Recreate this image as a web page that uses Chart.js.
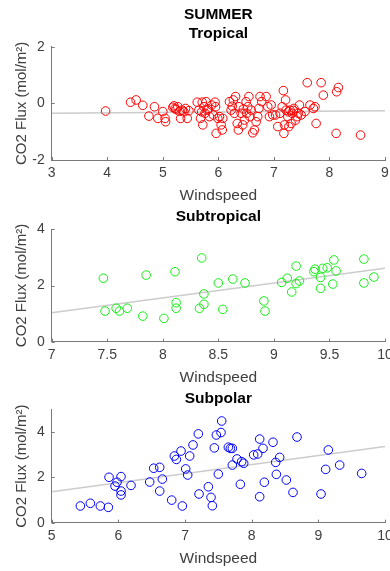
<!DOCTYPE html>
<html><head><meta charset="utf-8">
<script src="https://cdn.jsdelivr.net/npm/chart.js@4"></script>
<style>
html,body{margin:0;padding:0;background:#fff;width:390px;height:571px;overflow:hidden;position:relative;}
.p{position:absolute;left:0;width:400px;}
</style></head><body>
<div class="p" id="w1" style="top:0;height:206px"><canvas id="c1"></canvas></div>
<div class="p" id="w2" style="top:190px;height:197px"><canvas id="c2"></canvas></div>
<div class="p" id="w3" style="top:371px;height:200px"><canvas id="c3"></canvas></div>
<script>
// ---- Tropical (red) ----
const tropX = [3.97,4.42,4.52,4.64,4.75,4.85,4.91,5.00,5.04,5.05,5.18,5.20,5.22,5.27,5.32,5.35,5.41,5.44,5.47,5.62,5.65,5.68,5.71,5.72,5.74,5.76,5.78,5.80,5.84,5.88,5.91,5.94,5.95,5.96,5.99,6.02,6.05,6.07,6.08,6.20,6.23,6.27,6.29,6.31,6.34,6.36,6.37,6.41,6.44,6.47,6.50,6.51,6.53,6.55,6.57,6.59,6.62,6.65,6.68,6.71,6.73,6.75,6.78,6.86,6.89,6.92,6.95,6.98,7.03,7.07,7.11,7.15,7.17,7.18,7.19,7.21,7.22,7.25,7.27,7.29,7.31,7.33,7.36,7.39,7.42,7.44,7.46,7.49,7.56,7.60,7.65,7.71,7.74,7.76,7.85,7.89,8.12,8.13,8.16,8.56,5.24,5.30,5.38,5.70,5.82,6.25,6.45,7.26,7.35];
const tropY = [-0.27,0.04,0.12,-0.07,-0.45,-0.12,-0.53,-0.29,-0.53,-0.65,-0.14,-0.09,-0.18,-0.12,-0.53,-0.24,-0.18,-0.53,-0.26,0.04,-0.24,-0.53,0.04,-0.76,-0.12,-0.35,0.06,-0.24,-0.47,-0.06,-0.41,0.04,-0.12,-1.06,-0.53,-0.47,-0.76,-0.94,-0.53,0.06,-0.24,0.12,-0.35,0.24,-0.71,-0.94,-0.12,-0.35,-0.76,-0.59,0.06,-0.35,-0.12,0.24,-0.47,-0.24,-1.04,-0.94,-0.65,-0.47,-0.18,0.24,0.06,0.24,-0.12,-0.47,-0.06,-0.41,-0.41,-0.82,-0.35,-0.12,0.45,-1.06,-0.76,0.12,-0.24,-0.47,-0.82,-0.24,-0.71,-0.35,-0.18,-0.59,-0.47,-0.35,-0.06,-0.41,-0.29,0.73,-0.06,-0.18,-0.12,-0.71,0.73,0.29,-1.06,0.41,0.56,-1.12,-0.22,-0.28,-0.30,-0.30,-0.20,-0.10,-0.20,-0.30,-0.25];
const tropFitX = [3, 9];
const tropFitY = [-0.35, -0.26];
const tropXTicks = [3,4,5,6,7,8,9];
const tropYTicks = [-2,0,2];

// ---- Subtropical (green) ----
const subtX = [7.465,7.48,7.58,7.61,7.68,7.82,7.85,8.01,8.11,8.12,8.12,8.33,8.35,8.37,8.37,8.50,8.54,8.63,8.74,8.91,8.92,9.07,9.12,9.16,9.20,9.20,9.23,9.36,9.37,9.42,9.42,9.44,9.48,9.54,9.53,9.56,9.81,9.81,9.90];
const subtY = [2.26,1.09,1.19,1.09,1.19,0.91,2.37,0.83,2.49,1.39,1.19,1.19,2.98,1.33,1.70,2.09,1.15,2.23,2.09,1.45,1.09,2.11,2.26,1.77,2.69,2.07,2.16,2.49,2.58,2.29,1.90,2.61,2.63,2.91,2.05,2.52,2.94,2.09,2.30];
const subtFitX = [7, 10];
const subtFitY = [1.03, 2.61];
const subtXTicks = [7,7.5,8,8.5,9,9.5,10];
const subtYTicks = [0,2,4];

// ---- Subpolar (blue) ----
const subpX = [5.43,5.58,5.73,5.85,5.86,5.95,5.98,6.04,6.04,6.04,6.19,6.47,6.53,6.62,6.62,6.66,6.80,6.84,6.87,6.94,6.96,7.01,7.04,7.07,7.12,7.20,7.21,7.35,7.39,7.41,7.44,7.47,7.50,7.54,7.55,7.65,7.68,7.71,7.71,7.78,7.83,7.85,7.88,8.03,8.09,8.12,8.12,8.17,8.19,8.32,8.36,8.37,8.42,8.52,8.62,8.68,9.04,9.11,9.15,9.32,9.65];
const subpY = [0.74,0.86,0.74,0.68,2.01,1.62,1.79,2.04,1.40,1.23,1.65,1.80,2.41,2.45,1.40,1.93,1.00,2.95,2.80,3.17,0.74,2.38,2.11,2.95,3.44,3.93,1.27,1.59,1.12,0.75,3.31,3.88,2.15,3.99,4.50,3.34,3.29,3.29,2.55,2.82,1.70,2.70,2.63,3.00,3.04,3.70,1.15,3.29,1.79,3.56,2.67,2.14,2.89,1.89,1.34,3.79,1.27,2.36,3.22,2.55,2.18];
const subpFitX = [5, 10];
const subpFitY = [1.37, 3.37];
const subpXTicks = [5,6,7,8,9,10];
const subpYTicks = [0,2,4];

const FONT = "'Liberation Sans', Arial, Helvetica, sans-serif";
const AXIS = '#7a7a7a';
const TXT = '#404040';

const inwardTicks = {
  id: 'inwardTicks',
  afterDraw(chart) {
    const ctx = chart.ctx, xs = chart.scales.x, ys = chart.scales.y, a = chart.chartArea;
    ctx.save();
    ctx.strokeStyle = AXIS; ctx.lineWidth = 1;
    ctx.beginPath();
    xs.ticks.forEach(t => { const p = Math.round(xs.getPixelForValue(t.value)) + 0.5; ctx.moveTo(p, a.bottom); ctx.lineTo(p, a.bottom - 3); });
    ys.ticks.forEach(t => { const p = Math.round(ys.getPixelForValue(t.value)) + 0.5; ctx.moveTo(a.left, p); ctx.lineTo(a.left + 3, p); });
    ctx.stroke();
    // titles centred over the axes, as MATLAB does
    const o = chart.options.plugins.axTitle;
    ctx.fillStyle = '#000';
    ctx.font = 'bold 15.5px ' + FONT;
    ctx.textAlign = 'center'; ctx.textBaseline = 'middle';
    const cx = (a.left + a.right) / 2;
    o.lines.forEach((t, i) => ctx.fillText(t, cx, o.ys[i]));
    ctx.restore();
  }
};

function makeChart(id, cfg) {
  const pts = cfg.x.map((v, i) => ({x: v, y: cfg.y[i]}));
  const fit = cfg.fx.map((v, i) => ({x: v, y: cfg.fy[i]}));
  return new Chart(document.getElementById(id), {
    type: 'scatter',
    data: {
      datasets: [
        {data: pts, pointStyle: 'circle', pointRadius: 4.3, pointHoverRadius: 4.3, borderWidth: 1, borderColor: cfg.color, backgroundColor: 'rgba(0,0,0,0)'},
        {data: fit, showLine: true, pointRadius: 0, borderColor: '#cccccc', borderWidth: 1.5, fill: false}
      ]
    },
    options: {
      responsive: true, maintainAspectRatio: false, animation: false,
      events: [],
      layout: {padding: {left: 0, right: 15, top: cfg.top, bottom: cfg.padBottom}},
      plugins: {
        legend: {display: false}, tooltip: {enabled: false}, title: {display: false},
        axTitle: {lines: cfg.title, ys: cfg.titleY}
      },
      scales: {
        x: {
          type: 'linear', min: cfg.xmin, max: cfg.xmax,
          afterBuildTicks: s => { s.ticks = cfg.xt.map(v => ({value: v})); },
          ticks: {color: TXT, font: {family: FONT, size: 14}, padding: 5, maxRotation: 0, autoSkip: false,
                  callback: v => String(v)},
          grid: {display: false, drawTicks: false},
          border: {display: true, color: AXIS, width: 1},
          title: {display: true, text: 'Windspeed', color: TXT, font: {family: FONT, size: 15.5}, padding: {top: 0, bottom: 0}},
          afterFit: s => { s.height = 45; }
        },
        y: {
          type: 'linear', min: cfg.ymin, max: cfg.ymax,
          afterBuildTicks: s => { s.ticks = cfg.yt.map(v => ({value: v})); },
          ticks: {color: TXT, font: {family: FONT, size: 14}, padding: 7, callback: v => String(v)},
          grid: {display: false, drawTicks: false},
          border: {display: true, color: AXIS, width: 1},
          title: {display: true, text: 'CO2 Flux (mol/m²)', color: TXT, font: {family: FONT, size: 15}, padding: {top: 12.5, bottom: 0}},
          afterFit: s => { s.width = 51.7; }
        }
      }
    },
    plugins: [inwardTicks]
  });
}

makeChart('c1', {x: tropX, y: tropY, fx: tropFitX, fy: tropFitY, color: '#ff0000', title: ['SUMMER', 'Tropical'], titleY: [15, 34], top: 46.7,
  xmin: 3, xmax: 9, ymin: -2, ymax: 2, xt: tropXTicks, yt: tropYTicks, padBottom: 1.0});
makeChart('c2', {x: subtX, y: subtY, fx: subtFitX, fy: subtFitY, color: '#11f011', title: ['Subtropical'], titleY: [26.5], top: 39.3,
  xmin: 7, xmax: 10, ymin: 0, ymax: 4, xt: subtXTicks, yt: subtYTicks, padBottom: 0.3});
makeChart('c3', {x: subpX, y: subpY, fx: subpFitX, fy: subpFitY, color: '#0000ff', title: ['Subpolar'], titleY: [27.5], top: 38.7,
  xmin: 5, xmax: 10, ymin: 0, ymax: 5, xt: subpXTicks, yt: subpYTicks, padBottom: 3.3});
</script>
</body></html>
